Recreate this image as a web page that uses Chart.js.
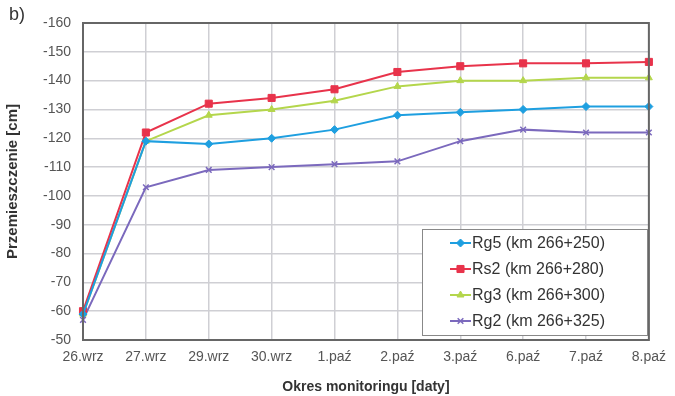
<!DOCTYPE html>
<html>
<head>
<meta charset="utf-8">
<script src="https://cdn.jsdelivr.net/npm/chart.js@4.4.1/dist/chart.umd.min.js"></script>
<style>
  html, body { margin: 0; padding: 0; background: #fff; }
  #wrap { position: relative; width: 675px; height: 396px; }
  #tag { position: absolute; left: 9px; top: 4px; font: 18px "Liberation Sans Narrow", "Liberation Sans", sans-serif; color: #333; }
</style>
</head>
<body>
<div id="wrap">
  <canvas id="chart" width="675" height="396"></canvas>
  <div id="tag">b)</div>
</div>
<script>
const dates = ["26.wrz", "27.wrz", "29.wrz", "30.wrz", "1.paź", "2.paź", "3.paź", "6.paź", "7.paź", "8.paź"];
const rg5 = [-59, -119, -118, -120, -123, -128, -129, -130, -131, -131];
const rs2 = [-60, -122, -132, -134, -137, -143, -145, -146, -146, -146.5];
const rg3 = [-59, -119, -128, -130, -133, -138, -140, -140, -141, -141];
const rg2 = [-57, -103, -109, -110, -111, -112, -119, -123, -122, -122];
const seriesNames = ["Rg5 (km 266+250)", "Rs2 (km 266+280)", "Rg3 (km 266+300)", "Rg2 (km 266+325)"];
const colors = ["#1e9fe0", "#e8334b", "#b4d64c", "#7b69bd"];
const shapes = ["rectRot", "rect", "triangle", "crossRot"];

const narrow = '"Liberation Sans Narrow", "Liberation Sans", sans-serif';

function makeSet(i, data) {
  return {
    label: seriesNames[i],
    data: data,
    borderColor: colors[i],
    backgroundColor: colors[i],
    borderWidth: 2,
    pointStyle: shapes[i],
    pointRadius: shapes[i] === "rect" ? 5 : 4,
    pointBorderWidth: shapes[i] === "crossRot" ? 1.5 : 1,
    tension: 0
  };
}

// legend box drawn inside the plot area
const boxLegend = {
  id: "boxLegend",
  afterDraw(chart) {
    const ctx = chart.ctx;
    const x0 = 422, y0 = 229, w = 225, h = 106;
    ctx.save();
    ctx.fillStyle = "#fff";
    ctx.fillRect(x0, y0, w, h);
    ctx.strokeStyle = "#888";
    ctx.lineWidth = 1;
    ctx.strokeRect(x0 + 0.5, y0 + 0.5, w, h);
    ctx.font = "16px " + narrow;
    ctx.textBaseline = "middle";
    chart.data.datasets.forEach((ds, i) => {
      const y = 243 + i * 26;
      ctx.strokeStyle = ds.borderColor;
      ctx.fillStyle = ds.backgroundColor;
      ctx.lineWidth = 2;
      ctx.beginPath();
      ctx.moveTo(450, y);
      ctx.lineTo(471, y);
      ctx.stroke();
      ctx.lineWidth = ds.pointBorderWidth;
      Chart.helpers.drawPoint(ctx, {
        pointStyle: ds.pointStyle, radius: ds.pointRadius, rotation: 0, borderWidth: ds.pointBorderWidth
      }, 460.5, y);
      ctx.fillStyle = "#333";
      ctx.fillText(ds.label, 472, y + 1);
    });
    ctx.restore();
  }
};

// dark frame round the plot
const frame = {
  id: "frame",
  afterDatasetsDraw(chart) {
    const a = chart.chartArea;
    const ctx = chart.ctx;
    ctx.save();
    ctx.strokeStyle = "#666";
    ctx.lineWidth = 2;
    ctx.strokeRect(a.left, a.top, a.right - a.left, a.bottom - a.top);
    ctx.restore();
  }
};

new Chart(document.getElementById("chart"), {
  type: "line",
  data: {
    labels: dates,
    datasets: [makeSet(0, rg5), makeSet(1, rs2), makeSet(2, rg3), makeSet(3, rg2)]
  },
  options: {
    responsive: false,
    animation: false,
    layout: { padding: { left: 0, right: 19, top: 23, bottom: 0 } },
    plugins: { legend: { display: false }, tooltip: { enabled: false } },
    scales: {
      x: {
        offset: false,
        grid: { color: "#cfcfd4", lineWidth: 1.5, drawTicks: false },
        border: { display: false },
        ticks: { color: "#555", font: { family: narrow, size: 14 }, padding: 9, maxRotation: 0 },
        title: { display: true, text: "Okres monitoringu [daty]", color: "#333", font: { family: "Liberation Sans", size: 14, weight: "bold" }, padding: { top: 6, bottom: 0 } },
        afterFit(s) { s.height = 56; }
      },
      y: {
        reverse: true,
        min: -160,
        max: -50,
        ticks: { stepSize: 10, color: "#555", font: { family: narrow, size: 14 }, padding: 12 },
        grid: { color: "#cfcfd4", lineWidth: 1.5, drawTicks: false },
        border: { display: false },
        title: { display: true, text: "Przemieszczenie [cm]", color: "#333", font: { family: "Liberation Sans", size: 15, weight: "bold" }, padding: { top: 4, bottom: 0 } },
        afterFit(s) { s.width = 83; }
      }
    }
  },
  plugins: [frame, boxLegend]
});
</script>
</body>
</html>
